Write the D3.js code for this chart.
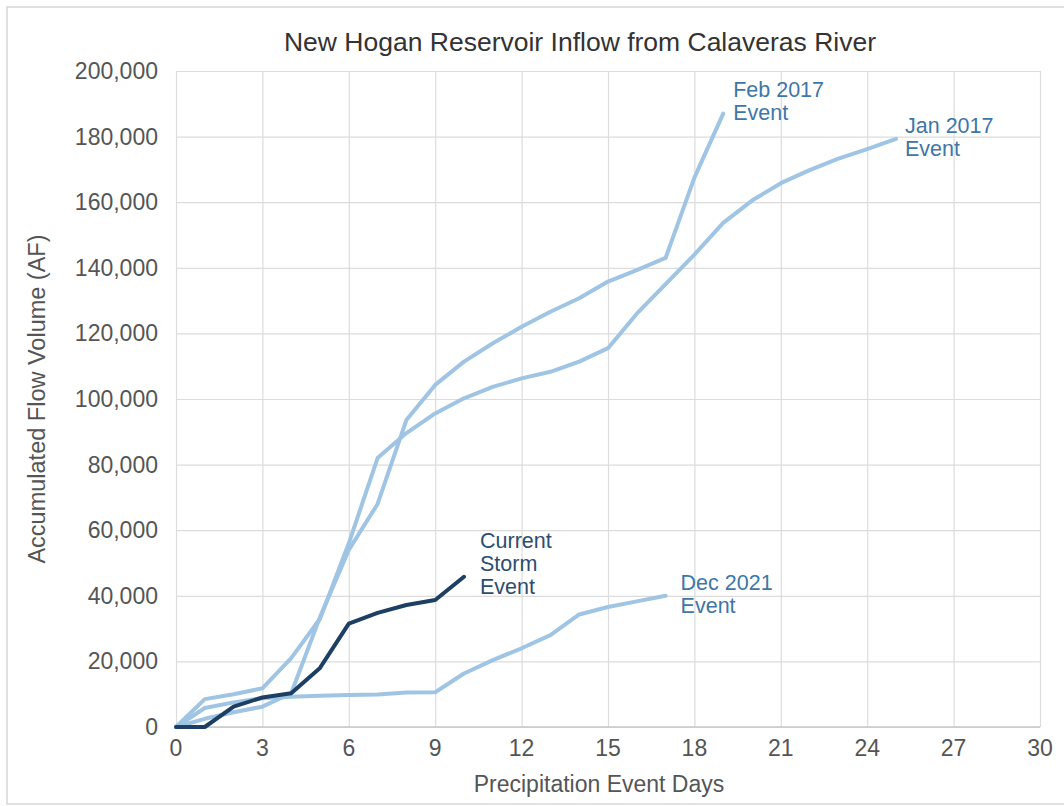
<!DOCTYPE html>
<html>
<head>
    <title>New Hogan Reservoir Inflow</title>
    <script src="https://d3js.org/d3.v7.min.js"></script>
    <style type="text/css">
        body {
            margin: 0;
            background-color: #fff;
            font-family: "Liberation Sans", Arial, sans-serif;
        }

        .grid line {
            stroke: #dcdcdc;
            stroke-width: 1.2px;
        }

        .tick-label {
            fill: #555;
            font-size: 23px;
        }

        .series {
            fill: none;
            stroke-width: 4px;
            stroke-linejoin: round;
            stroke-linecap: round;
        }
    </style>
</head>
<body>

<div id="chart"></div>

<script type="text/javascript">
    const days = d3.range(0, 26);
    const xTicks = [0, 3, 6, 9, 12, 15, 18, 21, 24, 27, 30];
    const yTicks = [0, 20000, 40000, 60000, 80000, 100000, 120000, 140000, 160000, 180000, 200000];

    const jan2017 = [0, 8500, 10000, 11800, 21000, 33000, 56000, 82000, 89600, 95600, 100200,
        103700, 106300, 108300, 111400, 115500, 126000, 135000, 144000, 153700, 160500,
        165800, 169800, 173300, 176200, 179300];
    const feb2017 = [0, 2500, 4500, 6200, 10300, 33500, 54000, 68000, 93600, 104300, 111400,
        117000, 122000, 126600, 130700, 135800, 139300, 143000, 167500, 187000];
    const dec2021 = [0, 5800, 7500, 8800, 9200, 9500, 9750, 9900, 10500, 10600, 16300,
        20400, 24000, 28000, 34300, 36600, 38300, 40000];
    const current = [0, 0, 6200, 9000, 10300, 18000, 31500, 34800, 37200, 38700, 45800];

    const seriesNames = ["Jan 2017", "Feb 2017", "Dec 2021", "Current"];
    const seriesValues = [jan2017, feb2017, dec2021, current];

    const width = 1064, height = 806;
    const margin = { top: 71, right: 24, bottom: 79, left: 176 };

    const svg = d3.select("#chart").append("svg")
        .attr("width", width)
        .attr("height", height);

    // outer frame
    svg.append("rect")
        .attr("x", 7).attr("y", 7)
        .attr("width", width + 10).attr("height", height - 9)
        .attr("fill", "none")
        .attr("stroke", "#d6d6d6")
        .attr("stroke-width", 1.5);

    const x = d3.scaleLinear().domain([0, 30]).range([margin.left, width - margin.right]);
    const y = d3.scaleLinear().domain([0, 200000]).range([height - margin.bottom, margin.top]);

    // gridlines
    svg.append("g").attr("class", "grid")
        .attr("transform", `translate(0,${height - margin.bottom})`)
        .call(d3.axisBottom(x).tickValues(xTicks).tickSize(-(y(0) - y(200000))).tickFormat(""))
        .call(g => g.select(".domain").remove());

    svg.append("g").attr("class", "grid")
        .attr("transform", `translate(${margin.left},0)`)
        .call(d3.axisLeft(y).tickValues(yTicks).tickSize(-(x(30) - x(0))).tickFormat(""))
        .call(g => g.select(".domain").remove());

    svg.append("line")
        .attr("x1", x(0)).attr("x2", x(30))
        .attr("y1", y(0)).attr("y2", y(0))
        .attr("stroke", "#c8c8c8").attr("stroke-width", 1.5);

    // tick labels
    svg.append("g").selectAll("text")
        .data(xTicks)
        .join("text")
        .attr("class", "tick-label")
        .attr("x", d => x(d))
        .attr("y", y(0) + 29)
        .attr("text-anchor", "middle")
        .text(d => d);

    svg.append("g").selectAll("text")
        .data(yTicks)
        .join("text")
        .attr("class", "tick-label")
        .attr("x", margin.left - 18)
        .attr("y", d => y(d) + 8)
        .attr("text-anchor", "end")
        .text(d => d3.format(",")(d));

    // titles
    svg.append("text")
        .attr("x", 580).attr("y", 51)
        .attr("text-anchor", "middle")
        .attr("font-size", 26.5)
        .attr("fill", "#333")
        .text("New Hogan Reservoir Inflow from Calaveras River");

    svg.append("text")
        .attr("x", 599).attr("y", 792)
        .attr("text-anchor", "middle")
        .attr("font-size", 23)
        .attr("fill", "#555")
        .text("Precipitation Event Days");

    svg.append("text")
        .attr("transform", `translate(45,${(y(0) + y(200000)) / 2}) rotate(-90)`)
        .attr("text-anchor", "middle")
        .attr("font-size", 23.5)
        .attr("fill", "#555")
        .text("Accumulated Flow Volume (AF)");

    // lines
    const line = d3.line()
        .x((d, i) => x(days[i]))
        .y(d => y(d));

    const lineColors = ["#9fc4e4", "#9fc4e4", "#9fc4e4", "#1d3f63"];

    svg.append("g").selectAll("path")
        .data(seriesValues)
        .join("path")
        .attr("class", "series")
        .attr("stroke", (d, i) => lineColors[i])
        .attr("d", line);

    // end labels
    const labels = [
        { lines: ["Feb 2017", "Event"], s: 1, dx: 10, dy: -17, color: "#3f76a8" },
        { lines: ["Jan 2017", "Event"], s: 0, dx: 9, dy: -6, color: "#3f76a8" },
        { lines: ["Dec 2021", "Event"], s: 2, dx: 15, dy: -6, color: "#3f76a8" },
        { lines: ["Current", "Storm", "Event"], s: 3, dx: 16, dy: -29, color: "#2e4d6e" }
    ];

    labels.forEach(l => {
        const vals = seriesValues[l.s];
        const lx = x(days[vals.length - 1]) + l.dx;
        const ly = y(vals[vals.length - 1]) + l.dy;
        const t = svg.append("text")
            .attr("x", lx).attr("y", ly)
            .attr("font-size", 21.5)
            .attr("fill", l.color);
        l.lines.forEach((s, i) => {
            t.append("tspan").attr("x", lx).attr("dy", i === 0 ? 0 : 23).text(s);
        });
    });
</script>

</body>
</html>
